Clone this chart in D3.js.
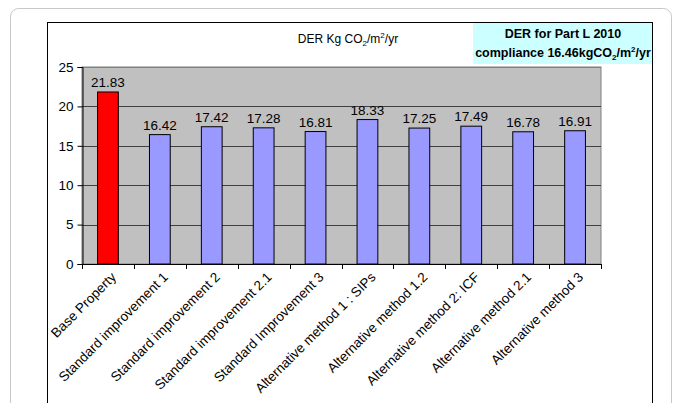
<!DOCTYPE html>
<html><head><meta charset="utf-8">
<script src="https://cdn.jsdelivr.net/npm/d3@7"></script>
<style>
body{margin:0;background:#fff;font-family:"Liberation Sans",Arial,sans-serif;}
</style></head>
<body>
<svg id="c" width="681" height="403"></svg>
<script>
const categories = ["Base Property","Standard improvement 1","Standard improvement 2","Standard improvement 2.1","Standard Improvement 3","Alternative method 1 : SIPs","Alternative method 1.2","Alternative method 2: ICF","Alternative method 2.1","Alternative method 3"];
const values = [21.83,16.42,17.42,17.28,16.81,18.33,17.25,17.49,16.78,16.91];
const barColors = ["#FF0000","#9999FF","#9999FF","#9999FF","#9999FF","#9999FF","#9999FF","#9999FF","#9999FF","#9999FF"];
const yTicks = [0,5,10,15,20,25];

const svg = d3.select("#c");
const font = "'Liberation Sans', Arial, sans-serif";

// outer rounded frame
svg.append("rect").attr("x",10.5).attr("y",8.5).attr("width",661).attr("height",420)
  .attr("rx",8).attr("fill","#fff").attr("stroke","#c8c8c8").attr("stroke-width",1);
// inner chart frame
svg.append("rect").attr("x",47.5).attr("y",22.5).attr("width",605).attr("height",400)
  .attr("fill","#fff").attr("stroke","#000").attr("stroke-width",1);

// compliance box
svg.append("rect").attr("x",473).attr("y",23).attr("width",179).attr("height",41).attr("fill","#CCFFFF");
svg.append("text").attr("x",563).attr("y",38).attr("text-anchor","middle")
  .attr("font-family",font).attr("font-size",12.5).attr("font-weight","bold").text("DER for Part L 2010");
const bt2 = svg.append("text").attr("x",563).attr("y",57).attr("text-anchor","middle")
  .attr("font-family",font).attr("font-size",12.5).attr("font-weight","bold");
bt2.append("tspan").text("compliance 16.46kgCO");
bt2.append("tspan").attr("font-size",8).attr("dy",3).text("2");
bt2.append("tspan").attr("dy",-3).text("/m");
bt2.append("tspan").attr("font-size",8).attr("dy",-5).text("2");
bt2.append("tspan").attr("dy",5).text("/yr");

// title
const t = svg.append("text").attr("x",348).attr("y",43).attr("text-anchor","middle")
  .attr("font-family",font).attr("font-size",12);
t.append("tspan").text("DER Kg CO");
t.append("tspan").attr("font-size",8).attr("dy",3).text("2");
t.append("tspan").attr("dy",-3).text("/m");
t.append("tspan").attr("font-size",8).attr("dy",-5).text("2");
t.append("tspan").attr("dy",5).text("/yr");

const m = {left:82, right:601, top:67, bottom:264};
const x = d3.scaleBand().domain(categories).range([m.left,m.right]).paddingInner(0.6).paddingOuter(0.3);
const y = d3.scaleLinear().domain([0,25]).range([m.bottom,m.top]);

svg.append("rect").attr("x",m.left).attr("y",m.top).attr("width",m.right-m.left).attr("height",m.bottom-m.top)
  .attr("fill","#C0C0C0").attr("stroke","#808080");

// gridlines
svg.append("g").selectAll("line").data(yTicks.filter(d=>d>0)).join("line")
  .attr("x1",m.left).attr("x2",m.right).attr("y1",d=>Math.round(y(d))+0.5).attr("y2",d=>Math.round(y(d))+0.5)
  .attr("stroke",d=>d===25?"#808080":"#404040").attr("stroke-width",1);

// y axis
const ya = svg.append("g").attr("transform",`translate(${m.left+0.5},0)`)
  .call(d3.axisLeft(y).tickValues(yTicks).tickSize(5).tickPadding(4));
ya.select(".domain").attr("stroke","#000");
ya.selectAll(".tick line").attr("stroke","#000");
ya.selectAll("text").attr("font-family",font).attr("font-size",13.5).attr("fill","#000");

// x axis
const xg = svg.append("g");
xg.append("line").attr("x1",m.left).attr("x2",m.right).attr("y1",m.bottom+0.5).attr("y2",m.bottom+0.5).attr("stroke","#000");
xg.selectAll("line.tk").data(d3.range(categories.length+1)).join("line").attr("class","tk")
  .attr("x1",i=>Math.round(m.left + i*(m.right-m.left)/categories.length)+0.5)
  .attr("x2",i=>Math.round(m.left + i*(m.right-m.left)/categories.length)+0.5)
  .attr("y1",m.bottom).attr("y2",m.bottom+5).attr("stroke","#000");
xg.selectAll("text").data(categories).join("text")
  .attr("transform",d=>`translate(${x(d)+x.bandwidth()/2+9},${m.bottom+14}) rotate(-45)`)
  .attr("text-anchor","end").attr("font-family",font).attr("font-size",13.5).attr("fill","#000")
  .text(d=>d);

// bars
svg.append("g").selectAll("rect").data(values).join("rect")
  .attr("x",(d,i)=>x(categories[i])).attr("width",x.bandwidth())
  .attr("y",d=>y(d)).attr("height",d=>y(0)-y(d))
  .attr("fill",(d,i)=>barColors[i]).attr("stroke","#000").attr("stroke-width",1);

// value labels
svg.append("g").selectAll("text").data(values).join("text")
  .attr("x",(d,i)=>x(categories[i])+x.bandwidth()/2).attr("y",d=>y(d)-5)
  .attr("text-anchor","middle").attr("font-family",font).attr("font-size",13.5).attr("fill","#000")
  .text(d=>d.toFixed(2));
</script>
</body></html>
